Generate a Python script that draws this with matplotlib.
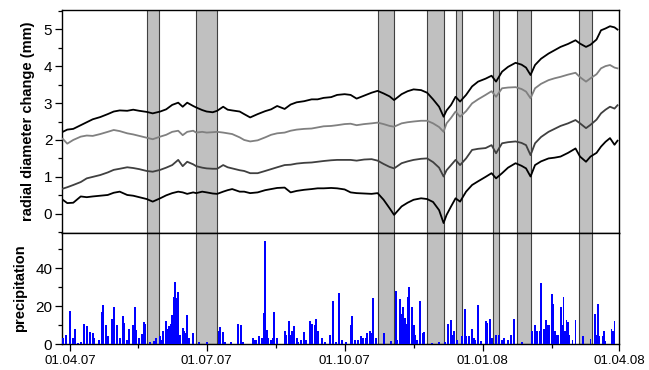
import matplotlib
matplotlib.use('Agg')
import matplotlib.pyplot as plt
import matplotlib.dates as mdates
from matplotlib.ticker import MultipleLocator
import pandas as pd

plt.rcParams['font.family'] = ['Liberation Sans', 'DejaVu Sans']

# ---------------- data ----------------
line_dates = [
    '2007-03-27', '2007-03-30', '2007-04-03', '2007-04-08', '2007-04-12', '2007-04-16', '2007-04-21', '2007-04-26', '2007-04-30', '2007-05-04',
    '2007-05-09', '2007-05-13', '2007-05-17', '2007-05-22', '2007-05-26', '2007-05-31', '2007-06-04', '2007-06-08', '2007-06-12', '2007-06-15',
    '2007-06-18', '2007-06-22', '2007-06-24', '2007-06-28', '2007-07-01', '2007-07-05', '2007-07-08', '2007-07-12', '2007-07-15', '2007-07-18',
    '2007-07-23', '2007-07-26', '2007-07-30', '2007-08-04', '2007-08-09', '2007-08-13', '2007-08-17', '2007-08-22', '2007-08-26', '2007-08-30',
    '2007-09-04', '2007-09-09', '2007-09-13', '2007-09-17', '2007-09-22', '2007-09-26', '2007-10-01', '2007-10-05', '2007-10-09', '2007-10-14',
    '2007-10-19', '2007-10-23', '2007-10-27', '2007-10-31', '2007-11-03', '2007-11-08', '2007-11-12', '2007-11-16', '2007-11-21', '2007-11-25',
    '2007-11-29', '2007-12-03', '2007-12-06', '2007-12-08', '2007-12-11', '2007-12-14', '2007-12-17', '2007-12-21', '2007-12-25', '2007-12-29',
    '2008-01-03', '2008-01-07', '2008-01-10', '2008-01-14', '2008-01-18', '2008-01-23', '2008-01-27', '2008-01-30', '2008-02-02', '2008-02-05',
    '2008-02-09', '2008-02-14', '2008-02-18', '2008-02-22', '2008-02-27', '2008-03-03', '2008-03-06', '2008-03-10', '2008-03-13', '2008-03-17',
    '2008-03-20', '2008-03-23', '2008-03-26', '2008-03-29', '2008-03-31',
]

radial_tree1 = [
    2.22, 2.28, 2.30, 2.40, 2.48, 2.56, 2.62, 2.70, 2.77, 2.80,
    2.79, 2.82, 2.79, 2.76, 2.72, 2.77, 2.83, 2.95, 3.01, 2.90,
    3.01, 2.92, 2.88, 2.81, 2.77, 2.75, 2.79, 2.90, 2.82, 2.80,
    2.77, 2.70, 2.61, 2.70, 2.78, 2.83, 2.92, 2.84, 2.96, 3.02,
    3.05, 3.10, 3.10, 3.14, 3.16, 3.22, 3.24, 3.22, 3.12, 3.20,
    3.28, 3.33, 3.26, 3.18, 3.08, 3.24, 3.32, 3.37, 3.35, 3.28,
    3.10, 2.90, 2.63, 2.80, 2.95, 3.17, 3.04, 3.22, 3.45, 3.58,
    3.66, 3.74, 3.58, 3.85, 3.98, 4.09, 4.04, 3.96, 3.76, 4.03,
    4.20, 4.34, 4.43, 4.52, 4.60, 4.70, 4.61, 4.52, 4.58, 4.72,
    4.97, 5.02, 5.08, 5.05, 4.99,
]

radial_tree2 = [
    2.03, 1.90, 2.00, 2.09, 2.12, 2.11, 2.16, 2.22, 2.27, 2.24,
    2.18, 2.15, 2.11, 2.06, 2.02, 2.09, 2.14, 2.22, 2.25, 2.13,
    2.22, 2.25, 2.20, 2.22, 2.20, 2.21, 2.22, 2.20, 2.18, 2.16,
    2.07, 2.00, 1.96, 1.99, 2.07, 2.14, 2.18, 2.20, 2.25, 2.28,
    2.30, 2.31, 2.34, 2.37, 2.38, 2.40, 2.43, 2.44, 2.40, 2.43,
    2.45, 2.47, 2.43, 2.38, 2.36, 2.45, 2.48, 2.50, 2.52, 2.52,
    2.45, 2.35, 2.22, 2.45, 2.60, 2.77, 2.63, 2.78, 2.99, 3.10,
    3.22, 3.32, 3.17, 3.40, 3.42, 3.43, 3.38, 3.31, 3.13, 3.40,
    3.52, 3.62, 3.67, 3.71, 3.77, 3.82, 3.70, 3.58, 3.67, 3.78,
    3.94, 4.00, 4.03, 3.96, 3.94,
]

radial_tree3 = [
    0.68, 0.72, 0.78, 0.86, 0.96, 1.00, 1.05, 1.12, 1.19, 1.22,
    1.26, 1.24, 1.21, 1.16, 1.14, 1.19, 1.25, 1.32, 1.46, 1.29,
    1.41, 1.34, 1.29, 1.25, 1.23, 1.22, 1.22, 1.32, 1.26, 1.23,
    1.18, 1.16, 1.10, 1.10, 1.16, 1.21, 1.26, 1.32, 1.33, 1.36,
    1.38, 1.39, 1.41, 1.43, 1.45, 1.46, 1.46, 1.46, 1.44, 1.47,
    1.48, 1.44, 1.35, 1.27, 1.23, 1.37, 1.42, 1.46, 1.49, 1.50,
    1.40, 1.25, 1.01, 1.18, 1.32, 1.46, 1.32, 1.50, 1.73, 1.76,
    1.78, 1.86, 1.64, 1.91, 1.94, 1.96, 1.92, 1.86, 1.59, 1.91,
    2.08, 2.22, 2.30, 2.38, 2.45, 2.54, 2.45, 2.32, 2.41, 2.55,
    2.72, 2.82, 2.90, 2.85, 2.94,
]

radial_tree4 = [
    0.38, 0.29, 0.30, 0.47, 0.45, 0.47, 0.49, 0.51, 0.57, 0.60,
    0.51, 0.49, 0.45, 0.40, 0.33, 0.42, 0.50, 0.56, 0.60, 0.58,
    0.54, 0.58, 0.56, 0.60, 0.58, 0.55, 0.54, 0.60, 0.64, 0.67,
    0.60, 0.60, 0.56, 0.58, 0.64, 0.67, 0.70, 0.71, 0.58, 0.62,
    0.65, 0.67, 0.69, 0.69, 0.70, 0.69, 0.66, 0.58, 0.56, 0.55,
    0.54, 0.56, 0.38, 0.15, -0.03, 0.20, 0.30, 0.38, 0.42, 0.40,
    0.32, 0.10, -0.25, -0.03, 0.20, 0.42, 0.33, 0.60, 0.78, 0.88,
    1.00, 1.10, 0.96, 1.10, 1.25, 1.37, 1.30, 1.23, 1.01, 1.32,
    1.42, 1.50, 1.52, 1.55, 1.65, 1.77, 1.55, 1.41, 1.55, 1.65,
    1.82, 1.95, 2.05, 1.87, 1.98,
]

series_colors = ['#000000', '#808080', '#404040', '#000000']

# precipitation: day number counted from 01.04.2007, and amount
precip_day = [
    -5, -3, 0, 2, 3, 5, 7, 9, 11, 13, 15, 16, 19, 21, 22, 24, 25, 28, 29, 31,
    33, 35, 36, 38, 39, 42, 43, 44, 46, 48, 49, 50, 53, 56, 57, 60, 61, 62, 64, 65,
    66, 67, 68, 69, 70, 71, 72, 73, 75, 76, 77, 78, 79, 82, 86, 91, 99, 100, 102, 103,
    107, 112, 114, 115, 122, 123, 124, 126, 128, 129, 130, 131, 132, 134, 135, 136, 138, 143, 144, 146,
    147, 148, 149, 151, 152, 154, 156, 157, 160, 161, 163, 164, 165, 168, 170, 173, 175, 177, 179, 181,
    184, 187, 188, 190, 192, 194, 195, 197, 198, 200, 201, 202, 204, 209, 214, 217, 218, 220, 221, 222,
    223, 224, 225, 226, 228, 229, 230, 231, 233, 235, 236, 241, 246, 250, 252, 254, 255, 256, 258, 261,
    263, 264, 266, 268, 269, 270, 272, 274, 277, 278, 280, 281, 284, 286, 288, 289, 292, 294, 296, 301,
    308, 310, 311, 313, 314, 316, 317, 318, 319, 321, 322, 323, 324, 325, 327, 328, 329, 330, 331, 332,
    333, 335, 337, 342, 347, 350, 351, 352, 353, 355, 356, 357, 361, 362, 363,
]
precip_mm = [
    3.2, 4.5, 17.5, 3.2, 8.0, 0.6, 0.8, 10.5, 9.3, 6.3, 5.8, 3.0, 2.0, 16.8, 20.3, 10.0, 4.0, 13.3, 19.6, 10.0,
    3.0, 15.0, 11.0, 2.0, 8.0, 10.0, 19.6, 7.5, 3.0, 5.3, 11.5, 10.5, 1.0, 1.5, 3.0, 4.0, 2.0, 6.6, 11.9, 8.0,
    9.3, 10.5, 15.3, 25.0, 32.6, 24.0, 27.2, 5.0, 8.4, 7.0, 5.8, 15.3, 3.0, 5.8, 1.0, 0.8, 7.0, 8.8, 6.3, 1.0,
    1.0, 10.6, 9.8, 1.0, 3.0, 2.0, 2.0, 4.0, 3.0, 16.3, 54.3, 7.5, 3.0, 2.0, 3.3, 16.8, 3.0, 6.6, 5.0, 12.2,
    5.0, 7.0, 9.3, 3.0, 1.0, 2.0, 6.3, 2.0, 11.9, 10.5, 10.0, 13.3, 7.0, 3.0, 1.0, 5.0, 22.4, 1.0, 26.8, 2.0,
    1.0, 9.8, 14.5, 2.0, 2.0, 4.0, 3.0, 3.3, 5.8, 6.6, 5.8, 24.2, 3.0, 5.8, 1.5, 27.7, 2.0, 23.5, 15.6, 19.6,
    13.5, 10.5, 25.0, 30.3, 19.6, 10.0, 5.0, 2.0, 22.7, 5.8, 6.3, 0.4, 1.0, 1.0, 10.5, 12.8, 5.0, 6.6, 2.0, 4.0,
    18.6, 4.0, 4.0, 7.8, 3.0, 2.0, 20.7, 1.5, 11.9, 11.1, 13.2, 3.0, 5.0, 5.0, 2.0, 3.0, 2.0, 5.0, 13.3, 1.0,
    7.0, 10.0, 7.0, 6.6, 32.1, 8.0, 12.8, 9.8, 10.0, 26.6, 21.0, 6.6, 5.0, 5.0, 19.3, 10.0, 25.0, 6.6, 12.8, 11.5,
    5.0, 2.0, 12.8, 4.0, 2.6, 15.6, 5.0, 21.0, 4.0, 4.0, 6.6, 1.5, 8.0, 6.6, 11.9,
]

event_start = ['2007-05-22', '2007-06-24', '2007-10-23', '2007-11-25', '2007-12-14', '2008-01-08', '2008-01-24', '2008-03-05']
event_end = ['2007-05-30', '2007-07-08', '2007-11-03', '2007-12-06', '2007-12-18', '2008-01-12', '2008-02-02', '2008-03-14']

x_start = '2007-03-26 12:00'
x_end = '2008-04-01'

assert len(precip_day) == len(precip_mm)
for s in (radial_tree1, radial_tree2, radial_tree3, radial_tree4):
    assert len(s) == len(line_dates)

# ---------------- figure ----------------
dates = pd.to_datetime(line_dates)
p_dates = pd.Timestamp('2007-04-01') + pd.to_timedelta(precip_day, unit='D')

fig = plt.figure(figsize=(6.49, 3.70), dpi=100)
ax1 = fig.add_axes([62 / 649, 1 - 233 / 370, (619 - 62) / 649, (233 - 10) / 370])
ax2 = fig.add_axes([62 / 649, 1 - 344 / 370, (619 - 62) / 649, (344 - 233) / 370], sharex=ax1)

for ax in (ax1, ax2):
    for s, e in zip(event_start, event_end):
        ax.axvspan(pd.Timestamp(s), pd.Timestamp(e), facecolor='#c0c0c0',
                   edgecolor='#404040', linewidth=0.8, zorder=0)
    for sp in ax.spines.values():
        sp.set_linewidth(1.0)
    ax.tick_params(axis='both', which='major', direction='out', length=5, width=0.9,
                   labelsize=11, pad=2)
    ax.tick_params(axis='both', which='minor', direction='out', length=3, width=0.9)

for vals, col in zip((radial_tree1, radial_tree2, radial_tree3, radial_tree4), series_colors):
    ax1.plot(dates, vals, color=col, linewidth=1.3, zorder=3)

ax1.set_ylim(-0.52, 5.52)
ax1.yaxis.set_major_locator(MultipleLocator(1))
ax1.yaxis.set_minor_locator(MultipleLocator(0.5))
ax1.set_ylabel('radial diameter change (mm)', fontsize=10.5, fontweight='bold', labelpad=6)
ax1.tick_params(axis='x', which='both', bottom=False, labelbottom=False)

ax2.bar(p_dates, precip_mm, width=1.3, color='#0000ff', linewidth=0, zorder=3)
ax2.set_ylim(0, 58.5)
ax2.yaxis.set_major_locator(MultipleLocator(20))
ax2.yaxis.set_minor_locator(MultipleLocator(10))
ax2.set_ylabel('precipitation', fontsize=10.5, fontweight='bold', labelpad=6)

ax2.set_xlim(pd.Timestamp(x_start), pd.Timestamp(x_end))
ax2.xaxis.set_major_locator(mdates.MonthLocator(bymonth=[1, 4, 7, 10], bymonthday=1))
ax2.xaxis.set_minor_locator(mdates.MonthLocator(bymonth=[2, 5, 8, 11], bymonthday=16))
ax2.xaxis.set_major_formatter(mdates.DateFormatter('%d.%m.%y'))
ax2.tick_params(axis='x', which='major', labelsize=9.5, pad=3)

fig.align_ylabels([ax1, ax2])
fig.savefig('out.png', dpi=100)
